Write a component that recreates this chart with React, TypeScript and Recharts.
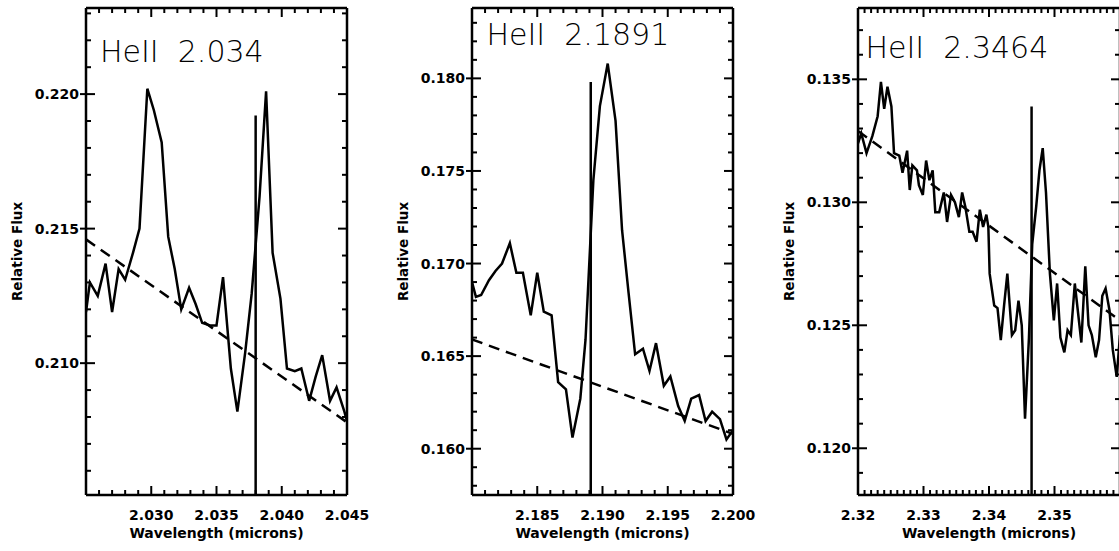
import React from 'react';
import { LineChart, Line, XAxis, YAxis, ReferenceLine } from 'recharts';

const FONT = '"DejaVu Sans", Verdana, sans-serif';

// ---------- Panel 1 : HeII 2.034 ----------
const p1Title = 'HeII  2.034';
const p1Wave = [2.0250, 2.0253, 2.0259, 2.0265, 2.0270, 2.0275, 2.0280, 2.0286, 2.0291, 2.0297, 2.0302, 2.0308, 2.0313, 2.0318, 2.0323, 2.0329, 2.0334, 2.0339, 2.0345, 2.0350, 2.0355, 2.0361, 2.0366, 2.0372, 2.0377, 2.0383, 2.0388, 2.0393, 2.0399, 2.0404, 2.0410, 2.0415, 2.0421, 2.0426, 2.0431, 2.0437, 2.0442, 2.0448, 2.0453];
const p1Flux = [0.2119, 0.2130, 0.2125, 0.2137, 0.2119, 0.2135, 0.2131, 0.2141, 0.2150, 0.2202, 0.2194, 0.2182, 0.2147, 0.2135, 0.2120, 0.2128, 0.2122, 0.2115, 0.2114, 0.2114, 0.2132, 0.2098, 0.2082, 0.2104, 0.2126, 0.2162, 0.2201, 0.2141, 0.2124, 0.2098, 0.2097, 0.2098, 0.2086, 0.2095, 0.2103, 0.2086, 0.2091, 0.2082, 0.2073];
const p1ContWave = [2.025, 2.045];
const p1ContFlux = [0.2146, 0.2078];
const p1LineWave = 2.0380;
const p1LineTop = 0.2192;
const p1XDomain = [2.025, 2.045];
const p1YDomain = [0.2051, 0.2232];
const p1XMajor = [2.030, 2.035, 2.040, 2.045];
const p1XLabels = ['2.030', '2.035', '2.040', '2.045'];
const p1YMajor = [0.210, 0.215, 0.220];
const p1YLabels = ['0.210', '0.215', '0.220'];

// ---------- Panel 2 : HeII 2.1891 ----------
const p2Title = 'HeII  2.1891';
const p2Wave = [2.1800, 2.1803, 2.1807, 2.1813, 2.1818, 2.1823, 2.1829, 2.1834, 2.1839, 2.1845, 2.1850, 2.1855, 2.1861, 2.1866, 2.1872, 2.1877, 2.1883, 2.1887, 2.1893, 2.1898, 2.1904, 2.1910, 2.1915, 2.1920, 2.1925, 2.1931, 2.1936, 2.1941, 2.1947, 2.1952, 2.1958, 2.1963, 2.1968, 2.1974, 2.1979, 2.1984, 2.1990, 2.1995, 2.2000];
const p2Flux = [0.1690, 0.1682, 0.1683, 0.1691, 0.1696, 0.1700, 0.1711, 0.1695, 0.1695, 0.1672, 0.1695, 0.1674, 0.1672, 0.1636, 0.1632, 0.1606, 0.1627, 0.1659, 0.1745, 0.1785, 0.1808, 0.1777, 0.1718, 0.1684, 0.1651, 0.1654, 0.1642, 0.1657, 0.1634, 0.1639, 0.1623, 0.1615, 0.1627, 0.1629, 0.1615, 0.1620, 0.1616, 0.1605, 0.1610];
const p2ContWave = [2.180, 2.200];
const p2ContFlux = [0.1659, 0.1608];
const p2LineWave = 2.1891;
const p2LineTop = 0.1798;
const p2XDomain = [2.180, 2.200];
const p2YDomain = [0.1575, 0.1838];
const p2XMajor = [2.185, 2.190, 2.195, 2.200];
const p2XLabels = ['2.185', '2.190', '2.195', '2.200'];
const p2YMajor = [0.160, 0.165, 0.170, 0.175, 0.180];
const p2YLabels = ['0.160', '0.165', '0.170', '0.175', '0.180'];

// ---------- Panel 3 : HeII 2.3464 ----------
const p3Title = 'HeII  2.3464';
const p3Wave = [2.3200, 2.3205, 2.3213, 2.3222, 2.3230, 2.3235, 2.3240, 2.3245, 2.3251, 2.3255, 2.3263, 2.3268, 2.3275, 2.3279, 2.3283, 2.3290, 2.3293, 2.3299, 2.3304, 2.3309, 2.3314, 2.3318, 2.3324, 2.3331, 2.3336, 2.3342, 2.3348, 2.3354, 2.3359, 2.3364, 2.3370, 2.3375, 2.3381, 2.3386, 2.3391, 2.3396, 2.3399, 2.3401, 2.3408, 2.3413, 2.3418, 2.3423, 2.3428, 2.3435, 2.3440, 2.3445, 2.3450, 2.3455, 2.3461, 2.3466, 2.3472, 2.3477, 2.3482, 2.3487, 2.3493, 2.3499, 2.3504, 2.3509, 2.3515, 2.3520, 2.3525, 2.3531, 2.3536, 2.3541, 2.3547, 2.3552, 2.3557, 2.3563, 2.3568, 2.3573, 2.3578, 2.3584, 2.3589, 2.3595, 2.3600];
const p3Flux = [0.1324, 0.1328, 0.1320, 0.1327, 0.1335, 0.1349, 0.1338, 0.1347, 0.1339, 0.1320, 0.1319, 0.1312, 0.1321, 0.1305, 0.1315, 0.1313, 0.1307, 0.1303, 0.1317, 0.1309, 0.1313, 0.1296, 0.1296, 0.1304, 0.1292, 0.1303, 0.1300, 0.1294, 0.1304, 0.1298, 0.1288, 0.1288, 0.1284, 0.1297, 0.1290, 0.1295, 0.1290, 0.1271, 0.1258, 0.1257, 0.1244, 0.1258, 0.1271, 0.1246, 0.1248, 0.1260, 0.1250, 0.1212, 0.1245, 0.1283, 0.1298, 0.1313, 0.1322, 0.1304, 0.1271, 0.1252, 0.1267, 0.1245, 0.1239, 0.1248, 0.1246, 0.1267, 0.1255, 0.1243, 0.1274, 0.1250, 0.1246, 0.1237, 0.1244, 0.1262, 0.1265, 0.1256, 0.1240, 0.1229, 0.1246];
const p3ContWave = [2.32, 2.36];
const p3ContFlux = [0.1329, 0.1252];
const p3LineWave = 2.3465;
const p3LineTop = 0.1339;
const p3XDomain = [2.32, 2.36];
const p3YDomain = [0.1181, 0.1379];
const p3XMajor = [2.32, 2.33, 2.34, 2.35, 2.36];
const p3XLabels = ['2.32', '2.33', '2.34', '2.35', ''];
const p3YMajor = [0.120, 0.125, 0.130, 0.135];
const p3YLabels = ['0.120', '0.125', '0.130', '0.135'];

const xTitle = 'Wavelength (microns)';
const yTitle = 'Relative Flux';

// ---------- helpers ----------
const minorTicks = (lo: number, hi: number, step: number) => {
  const out: number[] = [];
  const start = Math.ceil(lo / step - 1e-6) * step;
  for (let i = 0; start + i * step <= hi + 1e-9; i++) out.push(+(start + i * step).toFixed(6));
  return out;
};
const idxOf = (v: number, arr: number[]) => arr.findIndex((a) => Math.abs(a - v) < 1e-7);
const zip = (xs: number[], ys: number[]) => xs.map((x, i) => ({ x, y: ys[i] }));

const MAJ = 9;
const MIN = 5;
const TICK_W = 2;
const LINE_W = 2.5;

function BottomTick(props: any) {
  const { x, y, payload, majors, labels } = props;
  const k = idxOf(payload.value, majors);
  return (
    <g>
      <line x1={x} y1={y} x2={x} y2={y - (k >= 0 ? MAJ : MIN)} stroke="#000" strokeWidth={TICK_W} />
      {k >= 0 && labels[k] ? (
        <text x={x} y={y + 25} textAnchor="middle" fontFamily={FONT} fontWeight="bold" fontSize={14} fill="#000">
          {labels[k]}
        </text>
      ) : null}
    </g>
  );
}
function TopTick(props: any) {
  const { x, y, payload, majors } = props;
  const k = idxOf(payload.value, majors);
  return <line x1={x} y1={y} x2={x} y2={y + (k >= 0 ? MAJ : MIN)} stroke="#000" strokeWidth={TICK_W} />;
}
function LeftTick(props: any) {
  const { x, y, payload, majors, labels } = props;
  const k = idxOf(payload.value, majors);
  return (
    <g>
      <line x1={k >= 0 ? x - 6 : x} y1={y} x2={x + (k >= 0 ? MAJ : MIN)} y2={y} stroke="#000" strokeWidth={TICK_W} />
      {k >= 0 && labels[k] ? (
        <text x={x - 7} y={y + 5} textAnchor="end" fontFamily={FONT} fontWeight="bold" fontSize={14} fill="#000">
          {labels[k]}
        </text>
      ) : null}
    </g>
  );
}
function RightTick(props: any) {
  const { x, y, payload, majors } = props;
  const k = idxOf(payload.value, majors);
  return <line x1={x} y1={y} x2={x - (k >= 0 ? MAJ : MIN)} y2={y} stroke="#000" strokeWidth={TICK_W} />;
}

const ML = 86;
const MT = 8;
const PH = 487;
const H = 551;
const MR = 40;
const AX_B = 30; // bottom axis height
const AX_T = 4; // top axis height
const AX_L = 60; // left axis width
const AX_R = 6; // right axis width

type Panel = {
  title: string;
  titleDx: number;
  titleBase: number;
  plotLeft: number;
  plotW: number;
  spec: { x: number; y: number }[];
  cont: { x: number; y: number }[];
  lineX: number;
  lineTop: number;
  xDomain: number[];
  yDomain: number[];
  xMajor: number[];
  xLabels: string[];
  yMajor: number[];
  yLabels: string[];
};

const panels: Panel[] = [
  {
    title: p1Title, titleDx: 14, titleBase: 54, plotLeft: 86, plotW: 261,
    spec: zip(p1Wave, p1Flux), cont: zip(p1ContWave, p1ContFlux), lineX: p1LineWave, lineTop: p1LineTop,
    xDomain: p1XDomain, yDomain: p1YDomain, xMajor: p1XMajor, xLabels: p1XLabels, yMajor: p1YMajor, yLabels: p1YLabels,
  },
  {
    title: p2Title, titleDx: 14.5, titleBase: 37, plotLeft: 472, plotW: 261,
    spec: zip(p2Wave, p2Flux), cont: zip(p2ContWave, p2ContFlux), lineX: p2LineWave, lineTop: p2LineTop,
    xDomain: p2XDomain, yDomain: p2YDomain, xMajor: p2XMajor, xLabels: p2XLabels, yMajor: p2YMajor, yLabels: p2YLabels,
  },
  {
    title: p3Title, titleDx: 7.5, titleBase: 50, plotLeft: 858, plotW: 262,
    spec: zip(p3Wave, p3Flux), cont: zip(p3ContWave, p3ContFlux), lineX: p3LineWave, lineTop: p3LineTop,
    xDomain: p3XDomain, yDomain: p3YDomain, xMajor: p3XMajor, xLabels: p3XLabels, yMajor: p3YMajor, yLabels: p3YLabels,
  },
];

function Overlay({ p }: { p: Panel }) {
  const cx = ML - 69.5;
  const cy = MT + PH / 2;
  return (
    <svg width={ML + p.plotW + MR} height={H} style={{ position: 'absolute', left: 0, top: 0, pointerEvents: 'none' }}>
      <text x={ML + p.titleDx} y={MT + p.titleBase} fontFamily={FONT} fontWeight={300} fontSize={30} fill="#000" style={{ whiteSpace: 'pre' }}>
        {p.title}
      </text>
      <text x={ML + p.plotW / 2} y={MT + PH + 43} textAnchor="middle" fontFamily={FONT} fontWeight="bold" fontSize={14} fill="#000">
        {xTitle}
      </text>
      <text x={cx} y={cy} transform={`rotate(-90 ${cx} ${cy})`} textAnchor="middle" dominantBaseline="central" fontFamily={FONT} fontWeight="bold" fontSize={13.5} fill="#000">
        {yTitle}
      </text>
    </svg>
  );
}

function PanelChart({ p }: { p: Panel }) {
  const W = ML + p.plotW + MR;
  const xTicks = minorTicks(p.xDomain[0], p.xDomain[1], 0.001);
  const yTicks = minorTicks(p.yDomain[0], p.yDomain[1], 0.001);
  const axisLine = { stroke: '#000', strokeWidth: LINE_W };
  return (
    <LineChart width={W} height={H}
      margin={{ top: MT - AX_T, right: MR - AX_R, bottom: H - MT - PH - AX_B, left: ML - AX_L }}>
      <XAxis xAxisId="b" orientation="bottom" type="number" dataKey="x" domain={p.xDomain} allowDataOverflow
        ticks={xTicks} interval={0} height={AX_B} tickSize={0} tickMargin={0} tickLine={false} axisLine={axisLine}
        tick={<BottomTick majors={p.xMajor} labels={p.xLabels} />} />
      <XAxis xAxisId="t" orientation="top" type="number" dataKey="x" domain={p.xDomain} allowDataOverflow
        ticks={xTicks} interval={0} height={AX_T} tickSize={0} tickMargin={0} tickLine={false} axisLine={axisLine}
        tick={<TopTick majors={p.xMajor} />} />
      <YAxis yAxisId="l" orientation="left" type="number" dataKey="y" domain={p.yDomain} allowDataOverflow
        ticks={yTicks} interval={0} width={AX_L} tickSize={0} tickMargin={0} tickLine={false} axisLine={axisLine}
        tick={<LeftTick majors={p.yMajor} labels={p.yLabels} />} />
      <YAxis yAxisId="r" orientation="right" type="number" dataKey="y" domain={p.yDomain} allowDataOverflow
        ticks={yTicks} interval={0} width={AX_R} tickSize={0} tickMargin={0} tickLine={false} axisLine={axisLine}
        tick={<RightTick majors={p.yMajor} />} />
      <Line xAxisId="b" yAxisId="l" data={p.spec} dataKey="y" type="linear" stroke="#000" strokeWidth={LINE_W}
        dot={false} activeDot={false} isAnimationActive={false} />
      <Line xAxisId="t" yAxisId="r" data={p.cont} dataKey="y" type="linear" stroke="#000" strokeWidth={LINE_W}
        strokeDasharray="11 7" dot={false} activeDot={false} isAnimationActive={false} />
      <ReferenceLine xAxisId="b" yAxisId="l" ifOverflow="hidden" stroke="#000" strokeWidth={LINE_W}
        segment={[{ x: p.lineX, y: p.yDomain[0] }, { x: p.lineX, y: p.lineTop }]} />
    </LineChart>
  );
}

export default function App() {
  return (
    <div style={{ position: 'absolute', left: 0, top: 0, width: 1119, height: 551, overflow: 'hidden', background: '#fff' }}>
      {panels.map((p, i) => (
        <div key={i} style={{ position: 'absolute', left: p.plotLeft - ML, top: 0, width: ML + p.plotW + MR, height: H }}>
          <PanelChart p={p} />
          <Overlay p={p} />
        </div>
      ))}
    </div>
  );
}
